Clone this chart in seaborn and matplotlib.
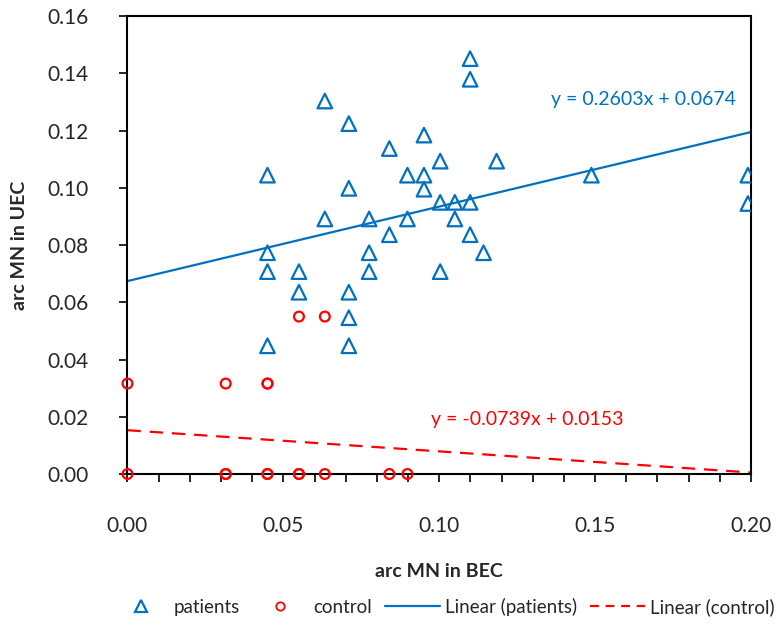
import numpy as np
import pandas as pd
import seaborn as sns
import matplotlib.pyplot as plt
from matplotlib.lines import Line2D
from matplotlib.ticker import MultipleLocator

# patients (arc MN in BEC, arc MN in UEC)
patients_x = [0.0449, 0.0449, 0.0449, 0.0449, 0.0550, 0.0550, 0.0633, 0.0633,
              0.0710, 0.0710, 0.0710, 0.0710, 0.0710, 0.0775, 0.0775,
              0.0775, 0.0840, 0.0840, 0.0898, 0.0898, 0.0951, 0.0951, 0.0951,
              0.1003, 0.1003, 0.1003, 0.1050, 0.1050, 0.1099, 0.1099, 0.1099,
              0.1099, 0.1142, 0.1184, 0.1488, 0.1990, 0.1990]
patients_y = [0.1044, 0.0773, 0.0707, 0.0448, 0.0707, 0.0635, 0.1303, 0.0891,
              0.1224, 0.0998, 0.0635, 0.0546, 0.0448, 0.0891, 0.0773,
              0.0707, 0.1137, 0.0836, 0.1044, 0.0891, 0.1184, 0.1044, 0.0995,
              0.1093, 0.0949, 0.0707, 0.0949, 0.0891, 0.1451, 0.1379, 0.0949,
              0.0836, 0.0773, 0.1093, 0.1044, 0.1044, 0.0945]

# control
control_x = [0.0550, 0.0633, 0.0, 0.0315, 0.0449, 0.0449,
             0.0, 0.0315, 0.0315, 0.0449, 0.0449, 0.0550, 0.0550, 0.0633, 0.0840, 0.0898]
control_y = [0.0550, 0.0550, 0.0316, 0.0316, 0.0316, 0.0316,
             0.0, 0.0, 0.0, 0.0, 0.0, 0.0, 0.0, 0.0, 0.0, 0.0]

# trend lines as reported on the chart
fit_names = ["patients", "control"]
fit_slope = [0.2603, -0.0739]
fit_intercept = [0.0674, 0.0153]

BLUE = "#0070C0"
RED = "#FF0000"

df_p = pd.DataFrame({"x": patients_x, "y": patients_y})
df_c = pd.DataFrame({"x": control_x, "y": control_y})

sns.set_style("white")
plt.rcParams["font.family"] = ["Lato", "DejaVu Sans"]

fig = plt.figure(figsize=(7.76, 6.3), dpi=100)
ax = fig.add_axes([0.1643, 0.2476, 0.8035, 0.7270])

sns.scatterplot(data=df_p, x="x", y="y", marker="^", s=110, facecolor="none",
                edgecolor=BLUE, linewidth=1.6, ax=ax, zorder=3)
sns.scatterplot(data=df_c, x="x", y="y", marker="o", s=50, facecolor="none",
                edgecolor=RED, linewidth=1.6, ax=ax, zorder=3, clip_on=False)

xs = np.array([0.0, 0.2])
for name, m, b in zip(fit_names, fit_slope, fit_intercept):
    line = pd.DataFrame({"x": xs, "y": m * xs + b})
    if name == "patients":
        sns.lineplot(data=line, x="x", y="y", color=BLUE, lw=1.6, ax=ax, zorder=2)
    else:
        sns.lineplot(data=line, x="x", y="y", color=RED, lw=1.6, ax=ax, zorder=2,
                     dashes=False, linestyle=(0, (6, 4)))

ax.text(0.195, 0.131, f"y = {fit_slope[0]:.4f}x + {fit_intercept[0]:.4f}",
        color=BLUE, fontsize=14, ha="right", va="center")
ax.text(0.159, 0.0189, f"y = {fit_slope[1]:.4f}x + {fit_intercept[1]:.4f}",
        color=RED, fontsize=14, ha="right", va="center")

ax.set_xlim(0, 0.2)
ax.set_ylim(0, 0.16)
ax.xaxis.set_major_locator(MultipleLocator(0.05))
ax.xaxis.set_minor_locator(MultipleLocator(0.01))
ax.yaxis.set_major_locator(MultipleLocator(0.02))
ax.xaxis.set_major_formatter(lambda v, p: f"{v:.2f}")
ax.yaxis.set_major_formatter(lambda v, p: f"{v:.2f}")

for s in ax.spines.values():
    s.set_color("black")
    s.set_linewidth(1.5)
ax.tick_params(axis="both", which="both", direction="out", color="black",
               width=1.2, labelsize=15)
ax.tick_params(axis="x", which="major", length=6, pad=24, bottom=True)
ax.tick_params(axis="x", which="minor", length=6, bottom=True)
ax.tick_params(axis="y", which="major", length=6, pad=22, left=True)

ax.set_xlabel("arc MN in BEC", fontsize=14, fontweight="bold", labelpad=20)
ax.set_ylabel("arc MN in UEC", fontsize=14, fontweight="bold", labelpad=14)

handles = [
    Line2D([], [], marker="^", ls="none", markerfacecolor="none",
           markeredgecolor=BLUE, markersize=9, markeredgewidth=1.6),
    Line2D([], [], marker="o", ls="none", markerfacecolor="none",
           markeredgecolor=RED, markersize=6, markeredgewidth=1.3),
    Line2D([], [], color=BLUE, lw=1.6),
    Line2D([], [], color=RED, lw=1.6, ls=(0, (4, 3))),
]
labels = ["patients", "control", "Linear (patients)", "Linear (control)"]
fig.legend(handles, labels, loc="center left", bbox_to_anchor=(0.125, 0.037), ncol=4,
           frameon=False, fontsize=13.5, handlelength=2.9, columnspacing=0.7,
           handletextpad=0.3)

fig.savefig("out.png", dpi=100)
